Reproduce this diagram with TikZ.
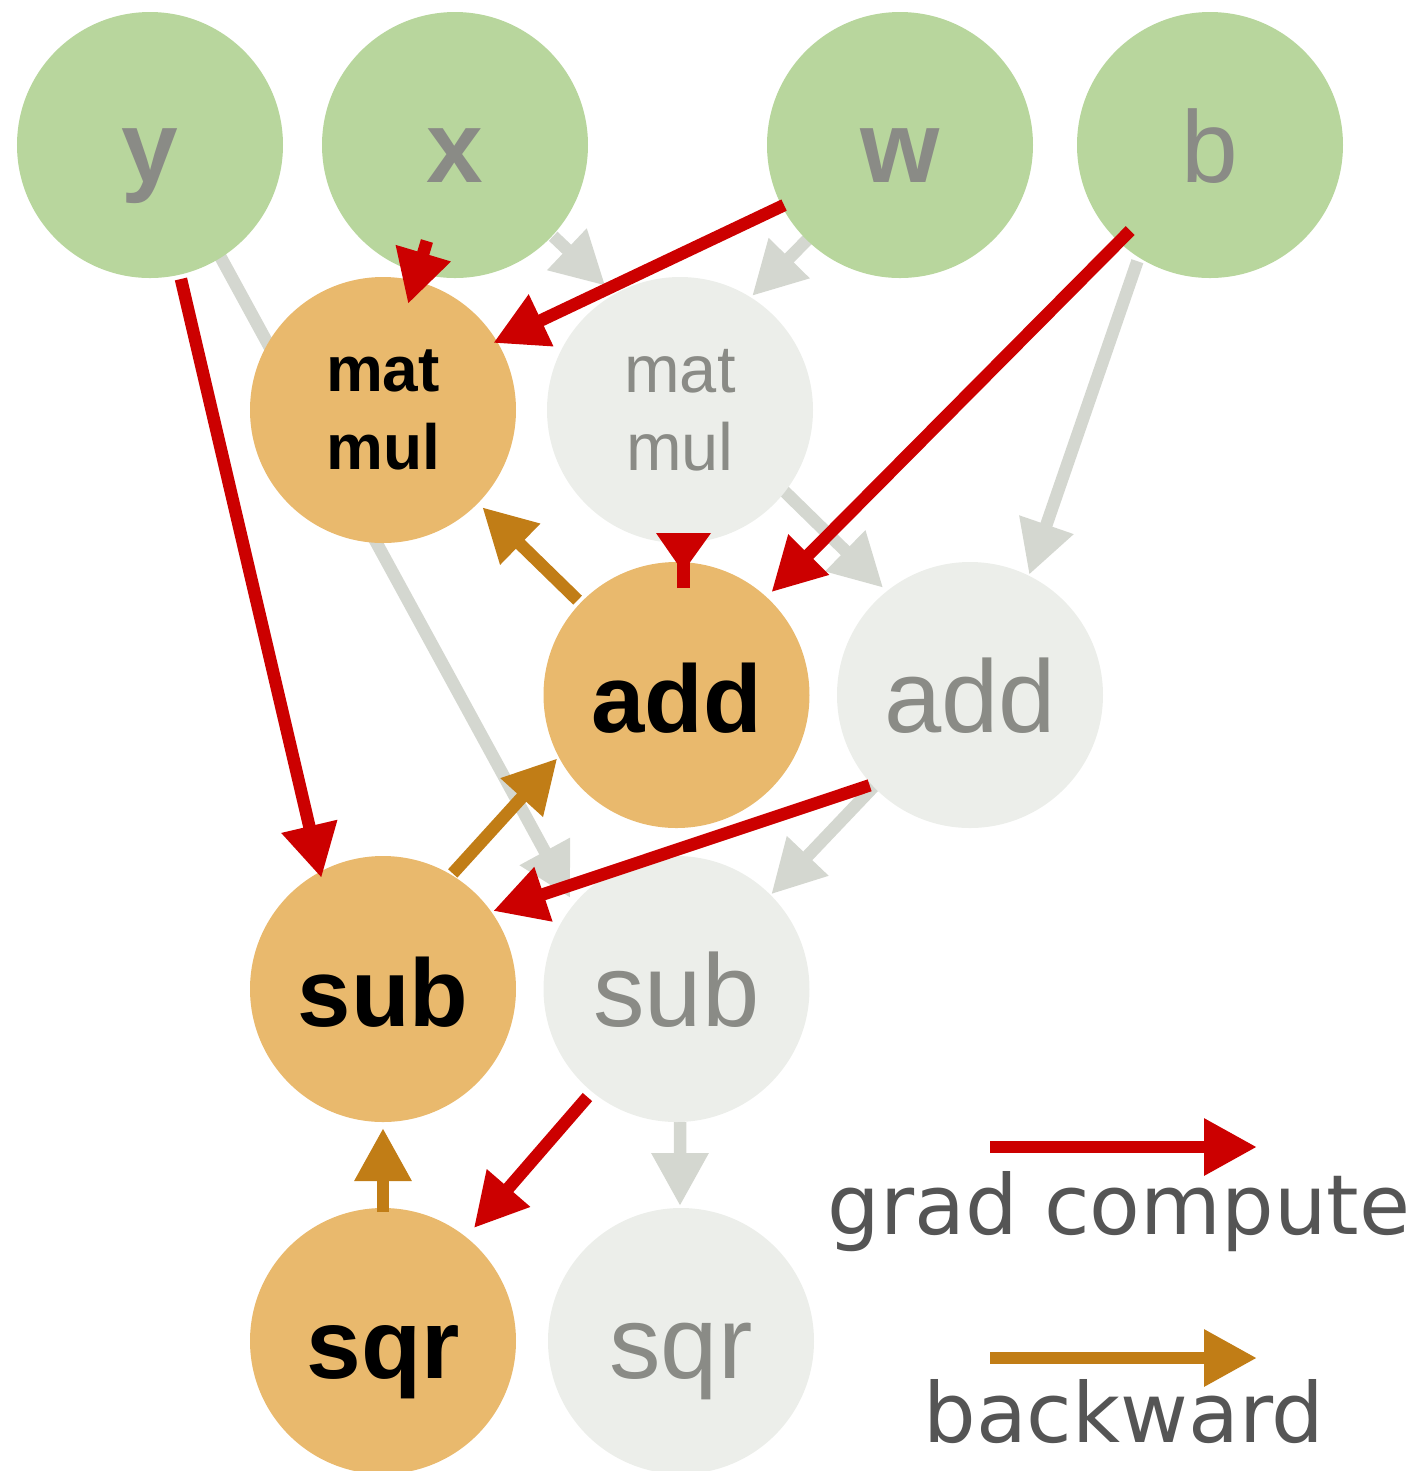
\documentclass[tikz,border=0pt]{standalone}
\usepackage{fontspec}
\setmainfont{Liberation Sans}
\newfontfamily\legendfont{DejaVu Sans}
\usetikzlibrary{arrows.meta,calc}
\definecolor{leafgreen}{RGB}{184,214,157}
\definecolor{leaftext}{RGB}{138,139,134}
\definecolor{opfill}{RGB}{233,185,109}
\definecolor{ghostfill}{RGB}{236,238,234}
\definecolor{fwdgray}{RGB}{212,215,208}
\definecolor{gradred}{RGB}{204,0,0}
\definecolor{bwdbrown}{RGB}{193,125,22}
\definecolor{legendtext}{RGB}{85,85,85}
\pgfdeclarelayer{bg}
\pgfsetlayers{bg,main}
\begin{document}
\begin{tikzpicture}[
  circ/.style={circle, minimum size=2.66cm, inner sep=0pt, outer sep=0pt},
  one/.style={circ, text height=0.74cm, text depth=0pt},
  leaf/.style={one, fill=leafgreen, text=leaftext, font=\fontsize{29pt}{34pt}\selectfont\bfseries},
  leafreg/.style={one, fill=leafgreen, text=leaftext, font=\fontsize{29pt}{34pt}\selectfont},
  opbig/.style={one, fill=opfill, text=black, font=\fontsize{27.3pt}{32pt}\selectfont\bfseries},
  ghbig/.style={one, fill=ghostfill, text=leaftext, font=\fontsize{29.3pt}{34pt}\selectfont},
  opmm/.style={circ, fill=opfill, text=black, align=center, font=\fontsize{18.2pt}{22.2pt}\selectfont\bfseries},
  ghmm/.style={circ, fill=ghostfill, text=leaftext, align=center, font=\fontsize{19pt}{22.2pt}\selectfont},
  tipstyle/.style={-{Triangle[length=0.53cm,width=0.54cm]}},
  fwd/.style={draw=fwdgray, line width=0.125cm, tipstyle},
  grad/.style={draw=gradred, line width=0.125cm, tipstyle},
  bwd/.style={draw=bwdbrown, line width=0.125cm, tipstyle},
  legend/.style={text=legendtext, inner sep=0pt, font=\legendfont\fontsize{23.6pt}{28pt}\selectfont}
]
\useasboundingbox (0,0) rectangle (14.10,-14.71);

% nodes
\node[leaf] (nY) at (1.50,-1.45) {y};
\node[leaf] (nX) at (4.55,-1.45) {x};
\node[leaf] (nW) at (9.00,-1.45) {w};
\node[leafreg] (nB) at (12.10,-1.45) {b};
\node[opmm] (omm) at (3.83,-4.10) {mat\\mul};
\node[ghmm] (gmm) at (6.80,-4.10) {mat\\mul};
\node[opbig] (oadd) at (6.765,-6.95) {add};
\node[ghbig] (gadd) at (9.70,-6.95) {add};
\node[opbig] (osub) at (3.83,-9.89) {sub};
\node[ghbig] (gsub) at (6.765,-9.89) {sub};
\node[opbig, font=\fontsize{28pt}{33pt}\selectfont\bfseries] (osqr) at (3.83,-13.41) {sqr};
\node[ghbig] (gsqr) at (6.81,-13.41) {sqr};

% forward (gray) edges, behind the circles
\begin{pgfonlayer}{bg}
\draw[fwd] ($(nY.center)+(-57.7:1.29)$) -- ($(gsub.center)+(139.4:1.40)$);
\draw[fwd] ($(nX.center)+(-42.9:1.34)$) -- ($(gmm.center)+(121:1.45)$);
\draw[fwd] ($(nW.center)+(-134.4:1.30)$) -- ($(gmm.center)+(57.7:1.35)$);
\draw[fwd] ($(gmm.center)+(-37.9:1.32)$) -- ($(gadd.center)+(129:1.38)$);
\draw[fwd] ($(nB.center)+(-122:1.37)$) -- ($(gadd.center)+(63.8:1.34)$);
\draw[fwd] ($(gadd.center)+(-136.5:1.31)$) -- ($(gsub.center)+(45:1.34)$);
\draw[fwd] ($(gsub.center)+(0.035,-1.33)$) -- ($(gsqr.center)+(-0.01,1.35)$);
\end{pgfonlayer}

% grad compute (red) edges
\draw[grad] ($(nW.center)+(-152.6:1.306)$) -- ($(omm.center)+(31.3:1.29)$);
\draw[grad] ($(nX.center)+(-106.3:1.00)$) -- ($(omm.center)+(76.7:1.09)$);
\draw[grad] ($(nY.center)+(-77:1.375)$) -- ($(osub.center)+(119:1.27)$);
\draw[grad] ($(nB.center)+(-133:1.17)$) -- ($(oadd.center)+(47.3:1.40)$);
\draw[grad] ($(gadd.center)+(-138:1.35)$) -- ($(osub.center)+(35.3:1.35)$);
\draw[grad] ($(gsub.center)+(-129.5:1.40)$) -- ($(osqr.center)+(51.2:1.45)$);
\fill[gradred] ($(gmm.center)+(-0.24,-1.23)$) -- ($(gmm.center)+(0.31,-1.23)$) -- ($(gmm.center)+(0.03,-1.62)$) -- cycle;
\draw[gradred, line width=0.13cm] ($(oadd.center)+(0.065,1.07)$) -- ($(oadd.center)+(0.065,1.40)$);

% backward (brown) edges
\draw[bwd] ($(oadd.center)+(136.2:1.37)$) -- ($(omm.center)+(-44.4:1.39)$);
\draw[bwd] ($(osub.center)+(58.9:1.35)$) -- ($(oadd.center)+(-152:1.35)$);
\draw[bwd] ($(osqr.center)+(90:1.29)$) -- ($(osub.center)+(-90:1.39)$);

% legend
\coordinate (lgA) at (9.90,-11.47);
\coordinate (lgB) at (12.57,-11.47);
\coordinate (lbA) at (9.90,-13.58);
\coordinate (lbB) at (12.57,-13.58);
\draw[grad] (lgA) -- (lgB);
\draw[bwd] (lbA) -- (lbB);
\node[legend, anchor=base] (lgtext) at (11.19,-12.34) {grad compute};
\node[legend, anchor=base] (lbtext) at (11.24,-14.42) {backward};
\end{tikzpicture}
\end{document}
